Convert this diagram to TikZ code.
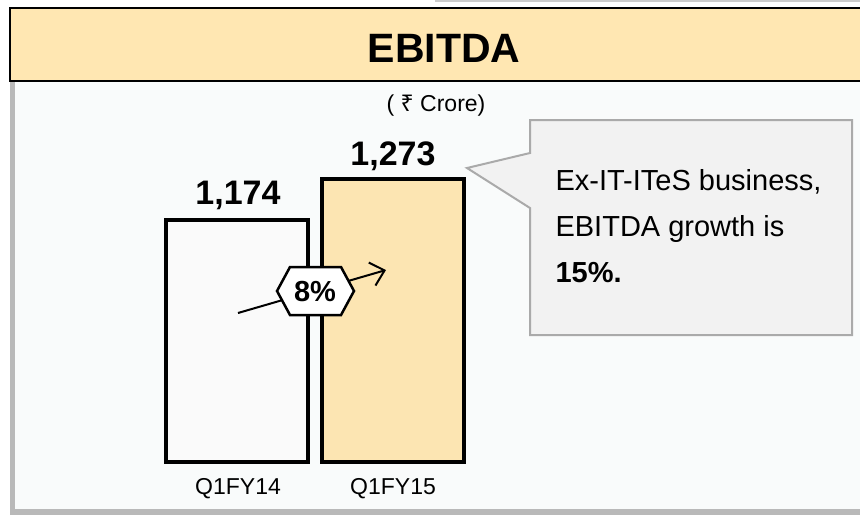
\documentclass[tikz,border=0pt]{standalone}
\usepackage{fontspec}
\setmainfont{Liberation Sans}
\newfontfamily\rupeefont{Noto Sans}
\usetikzlibrary{arrows.meta}

\definecolor{bandfill}{RGB}{255,231,178}
\definecolor{barfill}{RGB}{252,229,178}
\definecolor{panelfill}{RGB}{249,251,251}
\definecolor{notefill}{RGB}{242,242,242}
\definecolor{noteline}{RGB}{170,170,170}

\begin{document}
\begin{tikzpicture}[x=1pt,y=-1pt,
	bar/.style = {draw=black, line width=3.5pt},
	value/.style = {anchor=base, font=\fontsize{34}{36}\selectfont\bfseries},
	period/.style = {anchor=base, font=\fontsize{23}{26}\selectfont},
	notetext/.style = {anchor=base west, font=\fontsize{29}{32}\selectfont},
	growth/.style = {draw=black, fill=white, line width=2.5pt}]
	\useasboundingbox (0,0) rectangle (860,515);
	\draw [gray!40, line width=2pt] (435,1) -- (860,1);
	% panel and title band
	\fill [gray!55] (10,82) rectangle (870,515);
	\fill [panelfill] (15,82) rectangle (870,509);
	\draw [fill=bandfill, line width=2pt] (10,8) rectangle (875,81);
	\node [anchor=base, font=\fontsize{41}{44}\selectfont\bfseries] (title) at (444,62) {EBITDA};
	\node [anchor=base, font=\fontsize{23}{26}\selectfont] (unit) at (436,111) {( {\rupeefont ₹} Crore)};
	% bars
	\draw [bar, fill=white!96!gray] (166,220) rectangle (308,462);
	\draw [bar, fill=barfill] (322,179) rectangle (464,462);
	\node [value] (v14) at (238,204) {1,174};
	\node [value] (v15) at (393,165) {1,273};
	\node [period] (q14) at (238,494) {Q1FY14};
	\node [period] (q15) at (393,494) {Q1FY15};
	% growth arrow
	\coordinate (gfrom) at (238,313);
	\coordinate (gto) at (386,270);
	\draw [line width=2pt, -{Straight Barb[length=13pt,width=24pt]}] (gfrom) -- (gto);
	\draw [growth] (277,291) -- (290,267) -- (341,267) -- (354,291) -- (341,315) -- (290,315) -- cycle;
	\node [font=\fontsize{29}{32}\selectfont\bfseries] (pct) at (315,292) {8\%};
	% callout
	\draw [fill=notefill, draw=noteline, line width=2pt] (530,120) -- (852,120) -- (852,335) -- (530,335) -- (530,208) -- (467,168) -- (530,153) -- cycle;
	\node [notetext] (note1) at (552,190) {Ex-IT-ITeS business,};
	\node [notetext] (note2) at (552,236) {EBITDA growth is};
	\node [notetext] (note3) at (552,282) {\bfseries 15\%.};
\end{tikzpicture}
\end{document}
